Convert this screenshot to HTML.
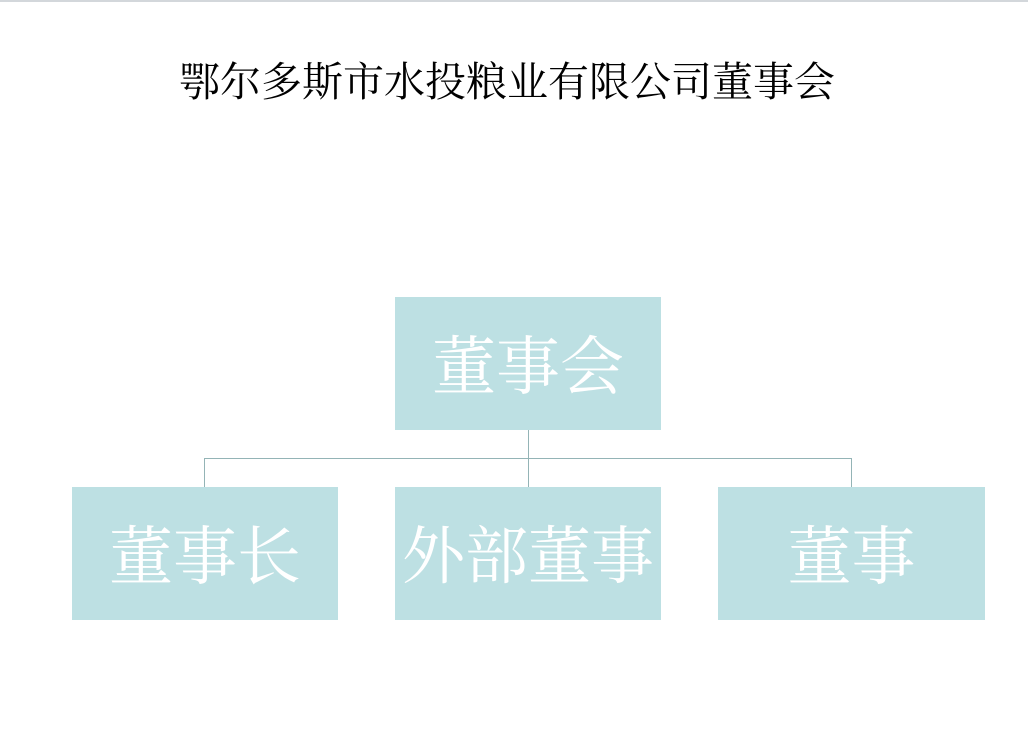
<!DOCTYPE html>
<html><head><meta charset="utf-8"><style>
body{margin:0;width:1028px;height:737px;background:#fff;position:relative;overflow:hidden;font-family:"Liberation Serif","Noto Serif CJK SC",serif}
.top{position:absolute;left:0;top:0;width:1028px;height:2px;background:#d3d7db}
.t{position:absolute;left:0;width:1014px;top:57px;text-align:center;font-size:41px;line-height:50px;color:#000;white-space:nowrap}
.b{position:absolute;background:#bde0e3;color:#fff;font-size:64px;display:flex;align-items:center;justify-content:center;width:266px;height:129px;padding-bottom:4px;white-space:nowrap}
.l{position:absolute;background:#94b4b6}
</style></head><body>
<div class="top"></div>
<div class="t">鄂尔多斯市水投粮业有限公司董事会</div>
<div class="b" style="left:395px;top:297px">董事会</div>
<div class="b" style="left:72px;top:487px">董事长</div>
<div class="b" style="left:395px;top:487px;font-size:63px">外部董事</div>
<div class="b" style="left:718px;top:487px;width:267px">董事</div>
<div class="l" style="left:528px;top:430px;width:1px;height:57px"></div>
<div class="l" style="left:204px;top:458px;width:648px;height:1px"></div>
<div class="l" style="left:204px;top:458px;width:1px;height:29px"></div>
<div class="l" style="left:851px;top:458px;width:1px;height:29px"></div>
</body></html>
